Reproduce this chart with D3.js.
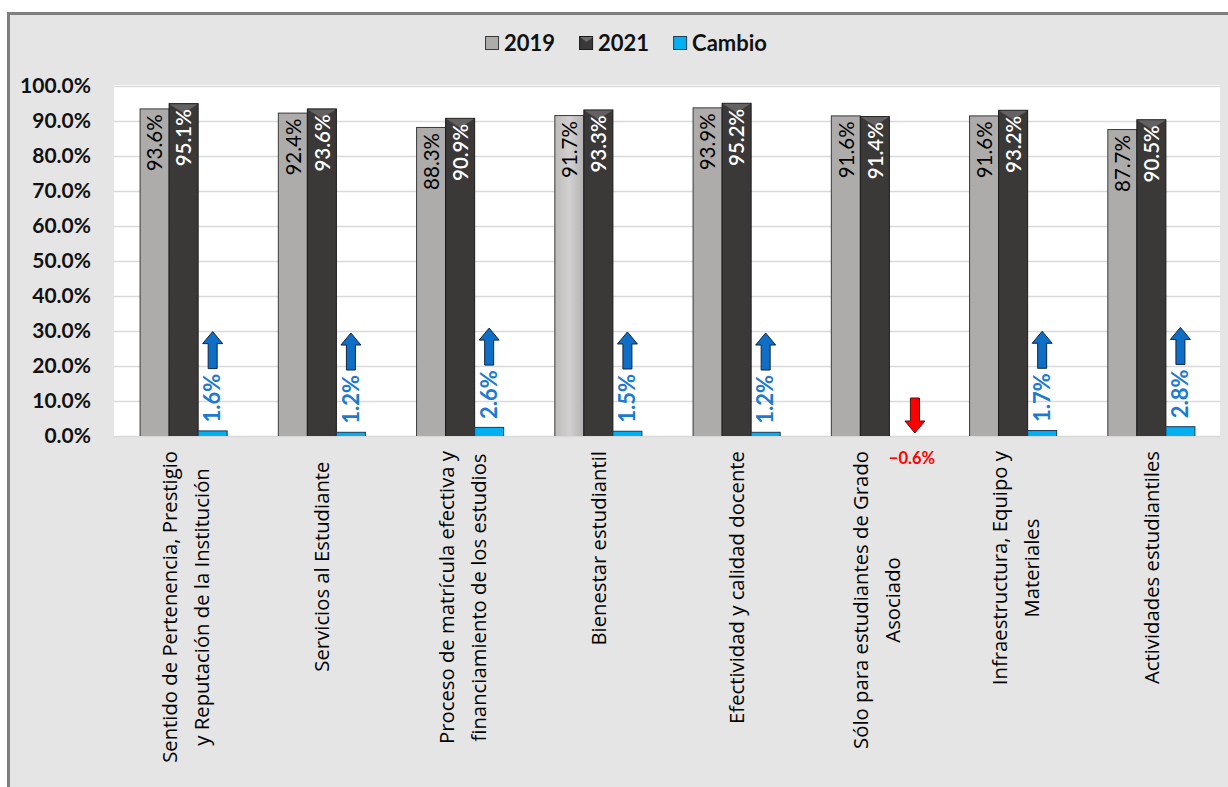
<!DOCTYPE html>
<html>
<head>
<meta charset="utf-8">
<script src="https://cdn.jsdelivr.net/npm/d3@7"></script>
<style>
  body { margin: 0; background: #fff; }
  text { font-family: Lato, "Open Sans", sans-serif; }
  text.cat { font-family: "Open Sans", sans-serif; }
</style>
</head>
<body>
<div id="chart"></div>
<script>
// chart values
var categories = [
  "Sentido de Pertenencia, Prestigio\ny Reputación de la Institución",
  "Servicios al Estudiante  ",
  "Proceso de matrícula efectiva y\nfinanciamiento de los estudios",
  "Bienestar estudiantil",
  "Efectividad y calidad docente",
  "Sólo para estudiantes de Grado\nAsociado",
  "Infraestructura, Equipo y\nMateriales",
  "Actividades estudiantiles"
];
var seriesNames = ["2019", "2021", "Cambio"];
var v2019 = [0.936, 0.924, 0.883, 0.917, 0.939, 0.916, 0.916, 0.877];
var v2021 = [0.951, 0.936, 0.909, 0.933, 0.952, 0.914, 0.932, 0.905];
var cambio = [0.016, 0.012, 0.026, 0.015, 0.012, -0.006, 0.017, 0.028];
var yTicks = [0, 0.1, 0.2, 0.3, 0.4, 0.5, 0.6, 0.7, 0.8, 0.9, 1.0];

var width = 1228, height = 787;
var margin = { top: 86, right: 8, bottom: 351, left: 114 };

var svg = d3.select("#chart").append("svg")
  .attr("width", width)
  .attr("height", height);

var defs = svg.append("defs");
var g19 = defs.append("linearGradient").attr("id", "light19");
g19.append("stop").attr("offset", "0%").attr("stop-color", "#bdbaba");
g19.append("stop").attr("offset", "50%").attr("stop-color", "#d2d0d0");
g19.append("stop").attr("offset", "100%").attr("stop-color", "#b4b1b1");
defs.append("clipPath").attr("id", "plotclip").append("rect")
  .attr("x", margin.left).attr("y", margin.top - 20)
  .attr("width", width - margin.left - margin.right)
  .attr("height", height - margin.top - margin.bottom + 20);

// outer panel
svg.append("rect")
  .attr("x", 8.5).attr("y", 13.5)
  .attr("width", 1240).attr("height", 800)
  .attr("fill", "#e5e5e5")
  .attr("stroke", "#7f7f7f")
  .attr("stroke-width", 3);

var x0 = d3.scaleBand()
  .domain(categories)
  .range([margin.left, width - margin.right])
  .paddingInner(0.37)
  .paddingOuter(0.185);

var x1 = d3.scaleBand()
  .domain(seriesNames)
  .range([0, x0.bandwidth()]);

var y = d3.scaleLinear()
  .domain([0, 1])
  .range([height - margin.bottom, margin.top]);

// plot area
svg.append("rect")
  .attr("x", margin.left).attr("y", margin.top - 1)
  .attr("width", width - margin.left - margin.right)
  .attr("height", y(0) - margin.top + 2)
  .attr("fill", "#fff");

svg.append("g").selectAll("line")
  .data(yTicks)
  .join("line")
  .attr("x1", margin.left).attr("x2", width - margin.right)
  .attr("y1", function (d) { return Math.round(y(d)) + 0.5; })
  .attr("y2", function (d) { return Math.round(y(d)) + 0.5; })
  .attr("stroke", "#d9d9d9")
  .attr("stroke-width", 1.5);

// y axis labels
var gY = svg.append("g")
  .attr("transform", "translate(" + (margin.left - 12) + ",0)")
  .call(d3.axisLeft(y).tickValues(yTicks).tickFormat(d3.format(".1%")).tickSize(0).tickPadding(11));
gY.select(".domain").remove();
gY.selectAll("text")
  .attr("font-size", 21)
  .attr("font-weight", "bold")
  .attr("fill", "#111");

var rows = categories.map(function (c, i) {
  return { cat: c, i: i, vals: [v2019[i], v2021[i], cambio[i]] };
});

var plot = svg.append("g").attr("clip-path", "url(#plotclip)");

var groups = plot.selectAll("g.grp")
  .data(rows)
  .join("g")
  .attr("class", "grp")
  .attr("transform", function (d) { return "translate(" + x0(d.cat) + ",0)"; });

var fills = { "2019": "#aeabab", "2021": "#3b3838", "Cambio": "#00b0f0" };
var strokes = { "2019": "#3a3a3a", "2021": "#1a1a1a", "Cambio": "#1f3a55" };

groups.selectAll("rect")
  .data(function (d) {
    return seriesNames.map(function (s, k) { return { s: s, v: d.vals[k], i: d.i }; });
  })
  .join("rect")
  .attr("x", function (d) { return x1(d.s) + 0.5; })
  .attr("y", function (d) { return y(Math.max(0, d.v)) + 0.5; })
  .attr("width", x1.bandwidth())
  .attr("height", function (d) { return Math.abs(y(0) - y(Math.max(0, d.v))); })
  .attr("fill", function (d) {
    if (d.s === "2019" && d.i === 3) return "url(#light19)";
    return fills[d.s];
  })
  .attr("stroke", function (d) { return strokes[d.s]; })
  .attr("stroke-width", 1);

// bevel on the dark bars
groups.append("path")
  .attr("d", function (d) {
    var bx = x1("2021") + 1, bw = x1.bandwidth() - 1, by = y(d.vals[1]) + 1;
    return "M" + bx + "," + by + "L" + (bx + bw) + "," + by + "L" + (bx + bw / 2) + "," + (by + 9) + "Z";
  })
  .attr("fill", "#6e6c6c")
  .attr("opacity", 0.8);

// labels inside bars
svg.append("g").selectAll("text")
  .data(rows)
  .join("text")
  .attr("transform", function (d) {
    return "translate(" + (x0(d.cat) + x1("2019") + x1.bandwidth() / 2 + 1) + "," + (y(d.vals[0]) + 6) + ") rotate(-90)";
  })
  .attr("text-anchor", "end")
  .attr("dy", "0.35em")
  .attr("font-size", 20.5)
  .attr("fill", "#000")
  .text(function (d) { return d3.format(".1%")(d.vals[0]); });

svg.append("g").selectAll("text")
  .data(rows)
  .join("text")
  .attr("transform", function (d) {
    return "translate(" + (x0(d.cat) + x1("2021") + x1.bandwidth() / 2 + 1) + "," + (y(d.vals[1]) + 6) + ") rotate(-90)";
  })
  .attr("text-anchor", "end")
  .attr("dy", "0.35em")
  .attr("font-size", 20.5)
  .attr("font-weight", 600)
  .attr("fill", "#fff")
  .text(function (d) { return d3.format(".1%")(d.vals[1]); });

// cambio labels + arrows
var upArrow = "M0,0 L10,12 L4.5,12 L4.5,37 L-4.5,37 L-4.5,12 L-10,12 Z";
var downArrow = "M0,0 L10,-12 L4.5,-12 L4.5,-35 L-4.5,-35 L-4.5,-12 L-10,-12 Z";

rows.forEach(function (d) {
  var cx = x0(d.cat) + x1("Cambio") + x1.bandwidth() / 2 + 0.5;
  var v = d.vals[2];
  if (v >= 0) {
    var t = svg.append("text")
      .attr("transform", "translate(" + cx + "," + (y(v) - 8) + ") rotate(-90)")
      .attr("text-anchor", "start")
      .attr("dy", "0.35em")
      .attr("font-size", 22)
      .attr("font-weight", "bold")
      .attr("fill", "#1c7ad0")
      .text(d3.format(".1%")(v));
    var len = t.node().getComputedTextLength();
    var top = y(v) - 8 - len - 5 - 37;
    svg.append("path")
      .attr("d", upArrow)
      .attr("transform", "translate(" + cx + "," + top + ")")
      .attr("fill", "#0f6fc6")
      .attr("stroke", "#10253f")
      .attr("stroke-width", 1);
  } else {
    svg.append("path")
      .attr("d", downArrow)
      .attr("transform", "translate(" + (cx + 11) + "," + (y(0) - 3) + ")")
      .attr("fill", "#ff0000")
      .attr("stroke", "#5a1010")
      .attr("stroke-width", 1);
    svg.append("text")
      .attr("x", cx + 8)
      .attr("y", y(0) + 22)
      .attr("dy", "0.35em")
      .attr("text-anchor", "middle")
      .attr("font-size", 16.5)
      .attr("font-weight", "bold")
      .attr("fill", "#ff0000")
      .text(d3.format(".1%")(v));
  }
});

// category labels (rotated, lines centered on each other)
var catG = svg.append("g");
rows.forEach(function (d) {
  var lines = d.cat.split("\n");
  var cx = x0(d.cat) + x0.bandwidth() / 2 + (lines.length > 1 ? 3 : 1);
  var gg = catG.append("g");
  var texts = lines.map(function (ln, k) {
    return gg.append("text")
      .attr("class", "cat")
      .attr("text-anchor", "middle")
      .attr("dy", "0.35em")
      .attr("font-size", 20.3)
      .attr("fill", "#000")
      .style("white-space", "pre")
      .text(ln);
  });
  var maxLen = d3.max(texts, function (t) { return t.node().getComputedTextLength(); });
  texts.forEach(function (t, k) {
    var lx = cx + (k - (lines.length - 1) / 2) * 32;
    t.attr("transform", "translate(" + lx + "," + (y(0) + 15 + maxLen / 2) + ") rotate(-90)");
  });
});

// legend
var legend = svg.append("g");
var lx = 0;
var items = seriesNames.map(function (s) {
  var it = legend.append("g").attr("transform", "translate(" + lx + ",0)");
  it.append("rect")
    .attr("x", 0.5).attr("y", -6.5)
    .attr("width", 13).attr("height", 13)
    .attr("fill", fills[s])
    .attr("stroke", strokes[s]);
  if (s === "2021") {
    it.append("path").attr("d", "M1,-6 L14,-6 L7.5,-1 Z").attr("fill", "#6e6c6c");
  }
  var t = it.append("text")
    .attr("x", 19).attr("dy", "0.35em")
    .attr("font-size", 22)
    .attr("font-weight", "bold")
    .attr("fill", "#111")
    .text(s);
  lx += 19 + t.node().getComputedTextLength() + 24;
  return it;
});
var legW = lx - 24;
legend.attr("transform", "translate(" + (626 - legW / 2) + ",43)");
</script>
</body>
</html>
